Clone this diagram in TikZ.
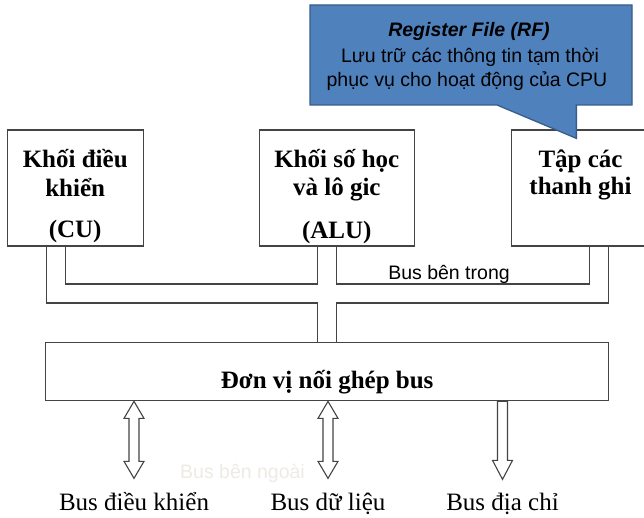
\documentclass[tikz,border=0pt]{standalone}
\usepackage{fontspec}
\setmainfont{Liberation Serif}
\newfontfamily\arialfont{Liberation Sans}
\usetikzlibrary{calc}

\definecolor{calloutfill}{HTML}{4F81BD}
\definecolor{calloutdraw}{HTML}{385D8A}
\definecolor{linegray}{HTML}{444444}
\definecolor{ghosttext}{HTML}{EEEBE4}

\tikzset{
  unitbox/.style={draw=linegray, line width=1.3pt, fill=white, inner sep=0pt},
  wire/.style={draw=linegray, line width=1.1pt},
  boxtext/.style={anchor=base, inner sep=0pt, font=\fontsize{25}{30}\selectfont\bfseries},
  bustext/.style={anchor=base, inner sep=0pt, font=\fontsize{25}{30}\selectfont},
  sanstext/.style={anchor=base, inner sep=0pt, font=\arialfont\fontsize{19.5}{23}\selectfont},
  hollowarrow/.style={draw=linegray, line width=1.1pt, fill=white, line join=miter},
}

% hollow two-way bus arrow hanging below a point
\newcommand\twowayarrow[1]{%
  \draw[hollowarrow] (#1) -- ++(10,17) -- ++(-5,0) -- ++(0,43) -- ++(5,0)
    -- ++(-10,17) -- ++(-10,-17) -- ++(5,0) -- ++(0,-43) -- ++(-5,0) -- cycle;}

\begin{document}
\begin{tikzpicture}[x=1pt,y=-1pt]
\clip (0,0) rectangle (644,518);
\fill[white] (0,0) rectangle (644,518);

% functional units
\node[unitbox, minimum width=136pt, minimum height=116pt] (cu)  at (75.2,188) {};
\node[unitbox, minimum width=155pt, minimum height=116pt] (alu) at (336.8,188) {};
\node[unitbox, minimum width=138pt, minimum height=116pt] (rf)  at (580.5,188) {};
\node[unitbox, minimum width=563pt, minimum height=58pt]  (bus) at (327.2,371.7) {};

\node[boxtext] (cu1) at (75.2,168) {Khối điều};
\node[boxtext] (cu2) at (75.2,197) {khiển};
\node[boxtext] (cu3) at (75.2,238) {(CU)};

\node[boxtext] (alu1) at (336.8,168) {Khối số học};
\node[boxtext] (alu2) at (336.8,196) {và lô gic};
\node[boxtext] (alu3) at (336.8,239) {(ALU)};

\node[boxtext] (rf1) at (580.5,168) {Tập các};
\node[boxtext] (rf2) at (580.5,195) {thanh ghi};

\node[boxtext] (bust) at (327.2,388) {Đơn vị nối ghép bus};

% internal bus: two parallel rails
\coordinate (cuA)  at ($(cu.south)+(-28.5,0)$);
\coordinate (cuB)  at ($(cu.south)+(-9.5,0)$);
\coordinate (aluA) at ($(alu.south)+(-19,0)$);
\coordinate (aluB) at ($(alu.south)+(-0.5,0)$);
\coordinate (rfA)  at ($(rf.south)+(9,0)$);
\coordinate (rfB)  at ($(rf.south)+(28.3,0)$);
\coordinate (yin)  at (0,284);
\coordinate (yout) at (0,303);

\draw[wire] (cuB) |- (yin -| aluA) -- (aluA);
\draw[wire] (aluB) |- (yin -| rfA) -- (rfA);
\draw[wire] (cuA) |- (yout -| aluA) -- (aluA |- bus.north);
\draw[wire] (bus.north -| aluB) |- (yout -| rfB) -- (rfB);

\node[sanstext] (inbus) at (449,279) {Bus bên trong};

% external buses
\node[bustext] (lcu)   at (134,510.5) {Bus điều khiển};
\node[bustext] (ldata) at (328,510.5) {Bus dữ liệu};
\node[bustext] (laddr) at (502.5,510.5) {Bus địa chỉ};

\coordinate (acu)   at (bus.south -| lcu);
\coordinate (adata) at (bus.south -| ldata);
\coordinate (aaddr) at (bus.south -| laddr);
\twowayarrow{acu}
\twowayarrow{adata}
\draw[hollowarrow] ($(aaddr)+(-5,0)$) -- ++(10,0) -- ++(0,59) -- ++(5,0)
  -- ++(-10,19) -- ++(-10,-19) -- ++(5,0) -- cycle;

\node[sanstext, text=ghosttext] (outbus) at (242.5,478) {Bus bên ngoài};

% register file callout
\coordinate (tip) at ($(rf.north west)+(65.5,9)$);
\draw[draw=calloutdraw, fill=calloutfill, line width=1.3pt, line join=miter]
  (310,5) -- (632,5) -- (632,105) -- (tip |- 0,105) -- (tip) -- (497,105) -- (310,105) -- cycle;
\node[sanstext, font=\arialfont\fontsize{19.5}{23}\selectfont\bfseries\itshape] (rft) at (469,37) {Register File (RF)};
\node[sanstext] (rfl1) at (470,63) {Lưu trữ các thông tin tạm thời};
\node[sanstext] (rfl2) at (467,87) {phục vụ cho hoạt động của CPU};
\end{tikzpicture}
\end{document}
